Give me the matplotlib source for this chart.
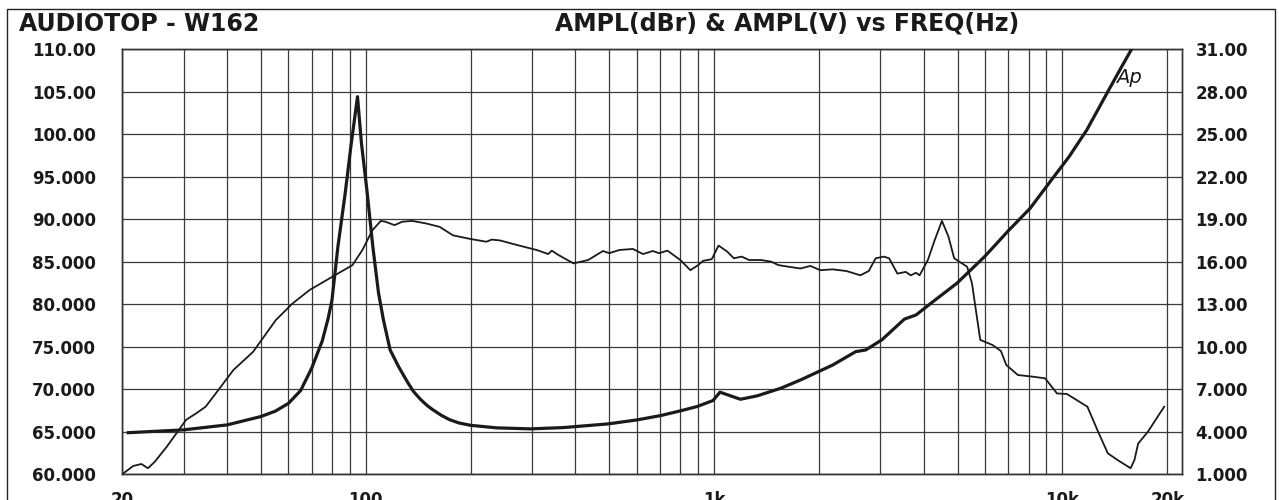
import matplotlib
matplotlib.use('Agg')
import matplotlib.pyplot as plt
import matplotlib.patches as patches
from matplotlib.ticker import FixedLocator, NullFormatter

# thin curve: response in dBr (left axis)
spl_freq = [20, 21.5, 22.7, 23.7, 24.8, 26.8, 28.6, 30.5, 32.6, 34.7, 37.1, 41.7, 47.5, 55.2,
            61.7, 69, 78.8, 91.6, 97.9, 104.5, 110.5, 114, 121, 127.2, 136, 149, 163, 178, 200,
            222, 230, 243, 272, 310, 334, 342, 357, 395, 435, 480, 500, 535, 585, 625, 667, 695,
            735, 800, 855, 900, 930, 985, 1030, 1090, 1140, 1200, 1260, 1365, 1460, 1530, 1640,
            1770, 1890, 2020, 2190, 2400, 2630, 2780, 2910, 3070, 3180, 3360, 3550, 3670, 3800,
            3890, 4110, 4300, 4510, 4710, 4890, 5330, 5500, 5810, 6300, 6660, 6900, 7450, 8240,
            8920, 9650, 10300, 11800, 12600, 13500, 14400, 15700, 16100, 16500, 17600, 19600]
spl_db = [60.0, 60.97, 61.2, 60.7, 61.47, 63.2, 64.8, 66.4, 67.16, 67.94, 69.5, 72.26, 74.4, 78.14,
          80.1, 81.67, 83.05, 84.6, 86.4, 88.7, 89.8, 89.7, 89.3, 89.7, 89.8, 89.5, 89.1, 88.1, 87.67,
          87.35, 87.6, 87.5, 86.96, 86.37, 85.9, 86.3, 85.8, 84.8, 85.2, 86.26, 86.0, 86.38, 86.5,
          85.9, 86.26, 86.0, 86.3, 85.2, 84.0, 84.6, 85.1, 85.3, 86.9, 86.2, 85.4, 85.6, 85.2, 85.2,
          85.0, 84.6, 84.4, 84.2, 84.5, 84.0, 84.1, 83.9, 83.4, 83.9, 85.4, 85.6, 85.4, 83.6, 83.8,
          83.4, 83.7, 83.4, 85.2, 87.55, 89.8, 87.94, 85.4, 84.4, 82.46, 75.8, 75.2, 74.5, 72.85,
          71.67, 71.47, 71.28, 69.5, 69.44, 67.94, 65.2, 62.46, 61.67, 60.7, 61.67, 63.6, 65.0, 67.94]

# thick curve: impedance, right axis
imp_freq = [20.8, 30, 40, 50, 55, 60, 65, 70, 75, 78, 80, 83.2, 87.3, 90.6, 94.7, 97.2, 101,
            104.8, 108.8, 112.4, 117.5, 124.2, 131.8, 137, 143.4, 150, 156, 165, 174, 185, 200,
            238, 297, 369, 496, 600, 703, 800, 892, 993, 1040, 1190, 1330, 1555, 1770, 2192, 2550,
            2725, 3030, 3520, 3800, 4210, 4980, 5980, 7030, 8080, 9300, 10450, 11750, 13500,
            14800, 15800]
imp_v = [3.93, 4.13, 4.48, 5.07, 5.45, 6.0, 6.9, 8.5, 10.4, 12.0, 13.3, 17.06, 20.83, 24.1, 27.65,
         24.36, 20.83, 17.06, 13.8, 11.89, 9.77, 8.6, 7.5, 6.85, 6.3, 5.85, 5.54, 5.15, 4.85, 4.62,
         4.45, 4.27, 4.2, 4.29, 4.55, 4.83, 5.14, 5.47, 5.77, 6.2, 6.79, 6.29, 6.53, 7.07, 7.65,
         8.71, 9.65, 9.77, 10.48, 11.95, 12.24, 13.1, 14.48, 16.36, 18.24, 19.77, 21.77, 23.41,
         25.3, 28.0, 29.77, 31.0]

x_major = [20, 100, 1000, 10000, 20000]
x_major_labels = ['20', '100', '1k', '10k', '20k']
x_minor = [30, 40, 50, 60, 70, 80, 90, 200, 300, 400, 500, 600, 700, 800, 900,
           2000, 3000, 4000, 5000, 6000, 7000, 8000, 9000]
left_ticks = [60, 65, 70, 75, 80, 85, 90, 95, 100, 105, 110]
left_labels = ['60.000', '65.000', '70.000', '75.000', '80.000', '85.000', '90.000',
               '95.000', '100.00', '105.00', '110.00']
right_ticks = [1, 4, 7, 10, 13, 16, 19, 22, 25, 28, 31]
right_labels = ['1.000', '4.000', '7.000', '10.00', '13.00', '16.00', '19.00',
                '22.00', '25.00', '28.00', '31.00']

plt.rcParams['font.family'] = 'DejaVu Sans'
fig = plt.figure(figsize=(12.79, 5.0), dpi=100)
ax = fig.add_axes([0.0956, 0.0516, 0.8283, 0.85])
ax2 = ax.twinx()

ax.set_xscale('log')
ax.set_xlim(20, 22000)
ax.set_ylim(60, 110)
ax2.set_ylim(1, 31)

ax.xaxis.set_major_locator(FixedLocator(x_major))
ax.set_xticklabels(x_major_labels)
ax.xaxis.set_minor_locator(FixedLocator(x_minor))
ax.xaxis.set_minor_formatter(NullFormatter())
ax.set_yticks(left_ticks)
ax.set_yticklabels(left_labels)
ax2.set_yticks(right_ticks)
ax2.set_yticklabels(right_labels)

ax.grid(True, which='both', axis='x', color='#3a3a3a', lw=0.9)
ax.grid(True, which='major', axis='y', color='#3a3a3a', lw=0.9)
ax.set_axisbelow(True)

ax.tick_params(axis='x', which='both', length=0, pad=12)
ax.tick_params(axis='y', length=0, pad=19)
ax2.tick_params(axis='y', length=0, pad=10)
for t in ax.get_xticklabels() + ax.get_yticklabels() + ax2.get_yticklabels():
    t.set_fontsize(12)
    t.set_fontweight('bold')
    t.set_color('#1a1a1a')

for a in (ax, ax2):
    for s in a.spines.values():
        s.set_color('#333333')
        s.set_linewidth(1.0)

ax.plot(spl_freq, spl_db, color='#1a1a1a', lw=1.3, zorder=3)
ax2.plot(imp_freq, imp_v, color='#1a1a1a', lw=2.3, zorder=3, solid_joinstyle='round')

ax2.text(14300, 29.0, 'Ap', fontsize=14, fontstyle='italic', fontweight='light',
         color='#1a1a1a', ha='left', va='center')

fig.text(19 / 1279, 1 - 31 / 500, 'AUDIOTOP - W162', fontsize=17, fontweight='bold',
         color='#1a1a1a', ha='left', va='baseline')
fig.text(787 / 1279, 1 - 31 / 500, 'AMPL(dBr) & AMPL(V) vs FREQ(Hz)', fontsize=17,
         fontweight='bold', color='#1a1a1a', ha='center', va='baseline')

frame = patches.Rectangle((6.7 / 1279, -0.1), (1275 - 6.7) / 1279, 1.1 - 9.3 / 500,
                          transform=fig.transFigure, fill=False, edgecolor='#222222',
                          lw=1.0, clip_on=False)
fig.patches.append(frame)

fig.savefig('out.png', dpi=100, facecolor='white')
